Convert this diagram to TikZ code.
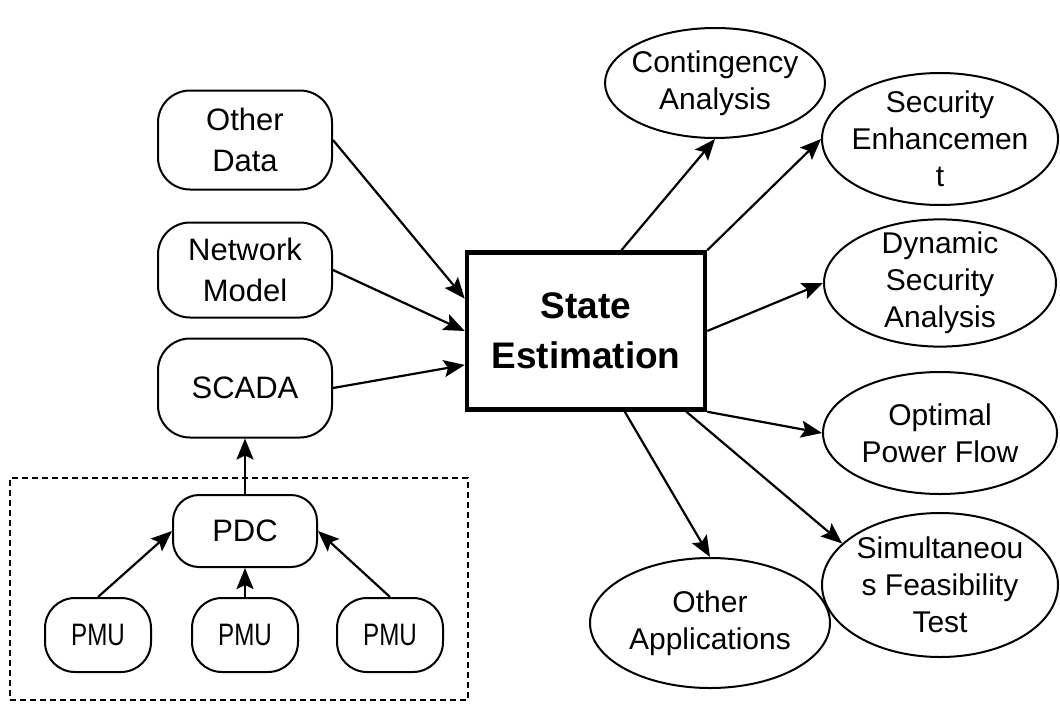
\documentclass[tikz,border=0pt]{standalone}
\usepackage{fontspec}
\usepackage{graphicx}
\setmainfont{Liberation Sans}
\usetikzlibrary{arrows.meta,shapes.geometric,calc}
\begin{document}
\begin{tikzpicture}[x=1pt,y=-1pt,
  rbox/.style={draw, line width=2pt, rounded corners=32pt, minimum width=174pt, minimum height=99pt, align=center, inner sep=0pt, font=\fontsize{31}{41}\selectfont},
  pbox/.style={draw, line width=2pt, rounded corners=30pt, minimum width=106pt, minimum height=74pt, inner sep=0pt, font=\fontsize{31}{36}\selectfont},
  ell/.style={draw, ellipse, line width=2pt, inner xsep=-10pt, inner ysep=-6pt, align=center, font=\fontsize{30}{37}\selectfont},
  conn/.style={line width=2.2pt, -{Stealth[length=21pt,width=17pt,inset=4pt]}}
]
\useasboundingbox (0,0) rectangle (1060,704);
% group frame
\node[draw, dash pattern=on 6pt off 4pt, line width=1.5pt, minimum width=458pt, minimum height=222pt, inner sep=0pt] (grp) at (239,589) {};
% left boxes
\node[rbox] (od) at (245,140) {Other\\Data};
\node[rbox, minimum height=95pt] (nm) at (245,270) {Network\\Model};
\node[rbox] (sc) at (245,388) {SCADA};
\node[pbox, minimum width=144pt, minimum height=72pt, rounded corners=26pt] (pdc) at (245,531) {PDC};
\node[pbox] (pmu1) at (98,635) {\scalebox{0.78}[1]{PMU}};
\node[pbox] (pmu2) at (245,635) {\scalebox{0.78}[1]{PMU}};
\node[pbox] (pmu3) at (390,635) {\scalebox{0.78}[1]{PMU}};
% centre
\node[draw, line width=4.5pt, minimum width=238pt, minimum height=157pt, align=center, inner sep=0pt, font=\bfseries\fontsize{37}{50}\selectfont] (se) at (586,331) {State\\Estimation};
% right ellipses
\node[ell, minimum width=220pt, minimum height=110pt] (cont) at (715,83) {Contingency\\Analysis};
\node[ell, minimum width=236pt, minimum height=132pt] (sec) at (940,139) {Security\\Enhancemen\\t};
\node[ell, minimum width=232pt, minimum height=126pt] (dyn) at (940,283) {Dynamic\\Security\\Analysis};
\node[ell, minimum width=234pt, minimum height=122pt] (opf) at (940,433) {Optimal\\Power Flow};
\node[ell, minimum width=236pt, minimum height=144pt] (sim) at (940,585) {Simultaneou\\s Feasibility\\Test};
\node[ell, minimum width=240pt, minimum height=130pt] (oth) at (710,623) {Other\\Applications};
% connectors left
\draw[conn] (od.east) -- ($(se.north west)!0.3!(se.south west)$);
\draw[conn] (nm.east) -- (se.west);
\draw[conn] (sc.east) -- ($(se.north west)!0.71!(se.south west)$);
\draw[conn] (pdc.north) -- (sc.south);
\draw[conn] (pmu1.north) -- (pdc.west);
\draw[conn] (pmu2.north) -- (pdc.south);
\draw[conn] (pmu3.north) -- (pdc.east);
% connectors right
\draw[conn] ($(se.north west)!0.646!(se.north east)$) -- (cont.south);
\draw[conn] (se.north east) -- (sec.west);
\draw[conn] (se.east) -- (dyn.west);
\draw[conn] (se.south east) -- (opf.west);
\draw[conn] ($(se.south west)!0.914!(se.south east)$) -- (sim.157);
\draw[conn] ($(se.south west)!0.66!(se.south east)$) -- (oth.north);
\end{tikzpicture}
\end{document}
